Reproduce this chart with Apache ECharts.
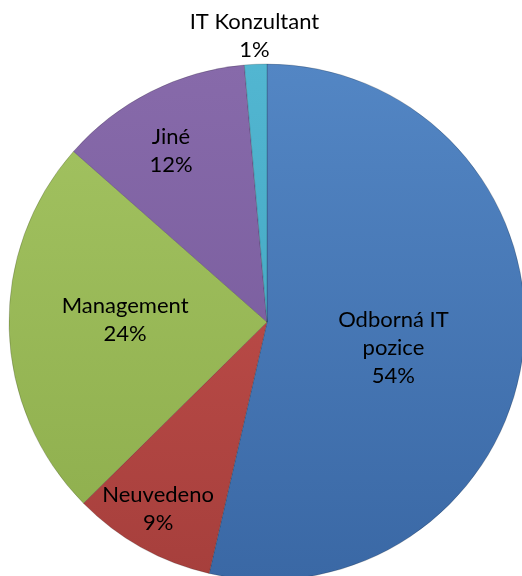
<!DOCTYPE html>
<html>
<head>
<meta charset="utf-8">
<script src="https://cdn.jsdelivr.net/npm/echarts@6/dist/echarts.min.js"></script>
<style>
  html, body { margin: 0; padding: 0; background: #fff; }
  #chart { width: 522px; height: 576px; }
</style>
</head>
<body>
<div id="chart"></div>
<script>
// pozice respondentů
var categories = ['Odborná IT\npozice', 'Neuvedeno', 'Management', 'Jiné', 'IT Konzultant'];
var values = [53.6, 9.0, 23.9, 12.1, 1.4];

// barvy (horní, dolní odstín)
var topColors = ['#5386c4', '#c9534f', '#a4c462', '#876aaa', '#52b6d1'];
var bottomColors = ['#3a68a5', '#a63f3c', '#8dad4c', '#735798', '#3c9fba'];

// vzdálenost popisku od středu (podíl poloměru)
var labelRadius = [0.5, 0.84, 0.55, 0.76, 1.11];
var labelAngleShift = [5, 1, 2.5, -2.5, 0];

var cx = 267, cy = 322, R = 258;

var chart = echarts.init(document.getElementById('chart'));

var total = values.reduce(function (a, b) { return a + b; }, 0);
var midAngles = [];
var acc = 0;
values.forEach(function (v) {
  midAngles.push((acc + v / 2) / total * 360);
  acc += v;
});

var data = categories.map(function (name, i) {
  return {
    name: name,
    value: values[i],
    itemStyle: {
      color: {
        type: 'linear', x: 0, y: cy - R, x2: 0, y2: cy + R, global: true,
        colorStops: [
          { offset: 0, color: topColors[i] },
          { offset: 1, color: bottomColors[i] }
        ]
      }
    }
  };
});

chart.setOption({
  backgroundColor: '#fff',
  animation: false,
  series: [{
    type: 'pie',
    center: [cx, cy],
    radius: [0, R],
    startAngle: 90,
    clockwise: true,
    percentPrecision: 0,
    data: data,
    itemStyle: {
      borderColor: 'rgba(0,0,0,0.18)',
      borderWidth: 1
    },
    label: {
      show: true,
      position: 'inside',
      formatter: '{b}\n{d}%',
      color: '#000',
      fontFamily: 'Lato',
      fontSize: 22,
      lineHeight: 28,
      align: 'center'
    },
    labelLine: { show: false },
    labelLayout: function (params) {
      var i = params.dataIndex;
      var a = (midAngles[i] + labelAngleShift[i]) * Math.PI / 180;
      var r = labelRadius[i] * R;
      return {
        x: cx + r * Math.sin(a),
        y: cy - r * Math.cos(a),
        align: 'center',
        verticalAlign: 'middle'
      };
    }
  }]
});
</script>
</body>
</html>
